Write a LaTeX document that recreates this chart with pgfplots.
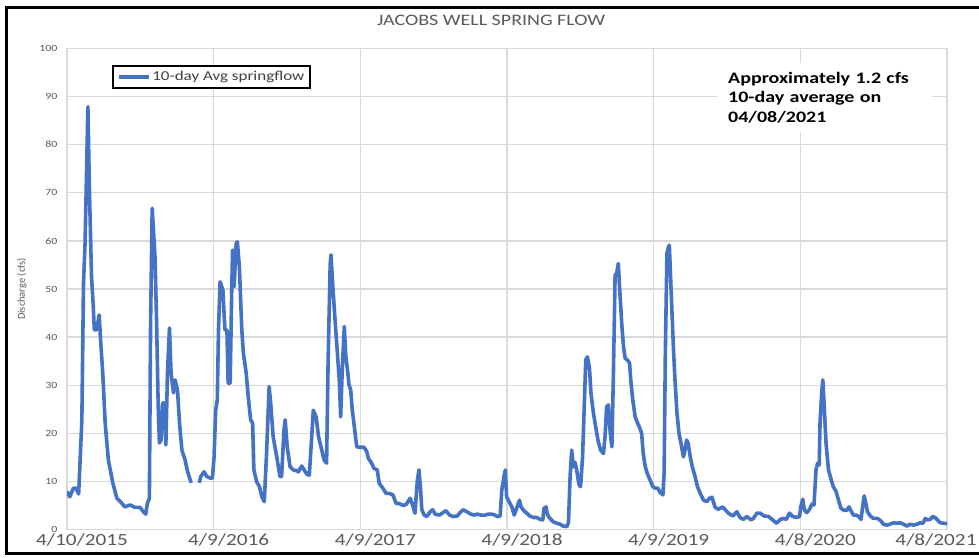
\documentclass[border=0pt]{standalone}
\usepackage{fontspec}
\setmainfont{Carlito}
\newfontfamily\calfont[FakeStretch=1.25]{Carlito}
\usepackage{pgfplots}
\usepackage{pgfplotstable}
\pgfplotsset{compat=1.18}

\definecolor{flowblue}{HTML}{4472C4}
\definecolor{gridgray}{HTML}{D9D9D9}
\definecolor{tickgray}{HTML}{595959}
\definecolor{legendgray}{HTML}{404040}

% days since 4/10/2015, 10-day average springflow (cfs)
\pgfplotstableread{
day cfs
0 7.9
7 6.8
16 8.6
22 8.6
29 7.4
37 22.8
41 51
45 59.6
52 87.9
56 70
61 52.6
65 47
68 41.5
74 41.5
80 44.6
84 38.8
89 32.5
95 22.1
103 14.4
114 9.7
124 6.5
136 5.5
144 4.7
157 5.1
169 4.6
182 4.6
190 3.7
196 3.2
200 5.4
205 6.5
208 42.9
212 66.8
219 56.7
223 42.9
227 25.5
230 18
234 18.6
238 26.3
242 26.3
246 17.6
250 32.5
255 41.9
259 32.5
265 28.4
269 31.1
275 29
280 22.1
286 16.5
294 14.4
299 12.4
304 11
309 9.7
315 nan
329 9.7
333 11
341 12
348 11
356 10.7
362 10.7
366 15.1
370 24.8
374 26.9
377 41.5
381 51.5
388 49.8
393 41.5
398 41.5
401 30.4
406 30.4
410 49.8
412 58.1
416 50.5
421 59.5
424 59.8
429 54.6
435 41.5
439 36.6
446 32.5
451 27.6
457 22.8
462 22.1
465 12.4
472 9.9
479 8.9
485 6.8
491 5.8
497 16.5
503 29.7
507 26.2
513 19.3
522 15.1
530 11
534 11
540 20.7
543 22.8
548 17.2
555 13.1
563 12.4
572 12.2
576 12
584 13.2
590 12.4
597 11.5
603 11.3
609 19.3
613 24.8
620 23.4
626 19.3
634 16.5
640 14.4
646 13.8
650 35.9
655 55.3
657 57.1
661 51.2
667 43.6
673 36.6
678 30.4
681 23.4
685 33.2
690 42.2
694 35.9
698 33.2
702 30
706 29
710 24.8
715 21.4
721 17.2
729 17.1
739 17.1
746 16.2
750 14.8
758 13.8
764 12.7
772 12.4
777 9.6
786 8.6
794 7.5
802 7.5
811 7.2
819 5.4
827 5.4
836 5.0
844 5.2
854 6.5
860 5.1
866 3.4
872 10.3
876 12.4
880 8.2
883 4.1
889 3.0
895 2.7
904 3.7
910 4.1
916 3.2
927 3.0
935 3.5
943 3.9
952 3.0
961 2.7
971 2.8
978 3.5
986 4.1
995 3.7
1005 3.2
1013 3.0
1021 3.2
1030 3.0
1040 3.0
1049 3.2
1057 3.2
1065 3.0
1071 2.7
1078 2.8
1082 8.2
1088 11.3
1091 12.4
1094 6.8
1100 5.8
1107 4.7
1113 3.0
1119 4.4
1126 6.1
1130 4.7
1137 3.9
1144 3.4
1152 2.8
1161 2.5
1169 2.5
1177 2.1
1184 2.0
1187 4.4
1192 4.7
1196 3.0
1202 2.3
1210 1.6
1219 1.3
1227 1.1
1235 0.7
1244 0.6
1248 1.5
1252 11
1256 16.5
1260 13
1264 14
1268 12.6
1274 9.4
1278 8.9
1283 15
1287 25
1291 35.2
1295 35.9
1300 33.8
1304 28.3
1310 24.2
1317 20.7
1322 18.3
1328 16.5
1335 15.8
1339 19.3
1343 25.5
1347 25.9
1352 20
1356 17.2
1360 33.2
1364 52.9
1368 53.3
1372 55.3
1376 49.1
1381 42.2
1385 38
1389 35.6
1395 35.2
1400 34.6
1403 31.1
1408 26.9
1414 23.4
1420 22.1
1424 21.4
1430 20
1434 15.8
1439 13.1
1444 11.7
1451 10.3
1458 8.9
1464 8.6
1470 8.6
1476 7.7
1483 7.2
1486 11.7
1489 36.6
1493 57.4
1497 58.8
1499 59.1
1503 50.5
1509 38
1513 31.1
1518 24.2
1523 20
1528 17.9
1534 15.1
1538 16.5
1542 18.6
1546 17.9
1551 15.1
1556 13.1
1563 11
1569 8.9
1576 7.5
1584 6.1
1592 5.8
1599 6.5
1605 6.7
1613 4.6
1621 4.2
1632 4.7
1638 4.1
1646 3.4
1657 2.8
1667 3.7
1675 2.5
1683 2.1
1692 2.7
1702 2.0
1708 2.3
1717 3.4
1725 3.4
1735 2.8
1746 2.7
1756 2.0
1766 1.3
1775 2.1
1783 2.3
1790 2.1
1798 3.4
1806 2.7
1816 2.5
1823 2.7
1826 4.7
1831 6.3
1835 4.1
1841 3.5
1848 4.2
1854 5.3
1859 5.1
1864 12.4
1868 13.8
1872 13.4
1874 22.1
1878 28.3
1881 31.1
1884 26.2
1889 17.9
1895 12.4
1902 10.3
1907 8.9
1914 7.9
1920 6.1
1926 4.4
1934 4.0
1941 4.0
1946 4.7
1951 3.9
1957 3.0
1964 3.0
1970 2.7
1976 2.1
1980 4.7
1984 7.0
1988 5.4
1992 3.7
1999 2.8
2007 2.3
2017 2.3
2025 1.8
2032 1.1
2040 0.9
2048 1.1
2057 1.4
2065 1.3
2073 1.4
2082 1.1
2090 0.7
2098 1.1
2106 0.9
2115 1.1
2123 1.4
2130 1.3
2136 2.3
2141 2.0
2148 2.1
2155 2.7
2160 2.5
2166 2.0
2173 1.4
2181 1.3
2190 1.2
}\flow

\begin{document}
\begin{tikzpicture}
\useasboundingbox (0pt,0pt) rectangle (979pt,557pt);
\begin{axis}[
  at={(67pt,27.5pt)}, anchor=south west,
  scale only axis, width=880pt, height=481pt,
  xmin=0, xmax=2190, ymin=0, ymax=100,
  xtick={0,365,730,1095,1460,1825},
  xticklabels={4/10/2015,4/9/2016,4/9/2017,4/9/2018,4/9/2019,4/8/2020},
  extra x ticks={2190},
  extra x tick labels={4/8/2021},
  extra x tick style={xticklabel style={xshift=-26pt}},
  ytick={0,10,...,100},
  grid=major,
  major grid style={draw=gridgray, line width=1.3pt},
  axis line style={draw=gridgray, line width=1.3pt},
  tick style={draw=none},
  /pgf/number format/assume math mode=true,
  xticklabel style={font=\calfont\fontsize{17}{17}\selectfont, text=tickgray, xshift=15pt, yshift=-1pt},
  yticklabel style={font=\calfont\fontsize{9.5}{10}\selectfont, text=tickgray, xshift=-6pt},
  ylabel={Discharge (cfs)},
  ylabel style={at={(axis description cs:-0.0511,0.5)}, anchor=center,
    font=\fontsize{10.5}{11}\selectfont, text=tickgray},
  title={JACOBS WELL SPRING FLOW},
  title style={at={(axis description cs:0.482,1)}, anchor=base, yshift=16.5pt,
    font=\calfont\fontsize{16}{16}\selectfont, text=tickgray},
  legend style={at={(0.051,0.966)}, anchor=north west, draw=black, line width=1.8pt,
    fill=white, font=\calfont\fontsize{13.6}{14}\selectfont, text=legendgray,
    inner xsep=4pt, inner ysep=3.5pt},
  legend image code/.code={\draw[#1] (0pt,0pt) -- (30pt,0pt);},
  unbounded coords=jump,
]
\addplot[flowblue, line width=3.6pt, line join=round] table[x=day, y=cfs] {\flow};
\addlegendentry{10-day Avg springflow}
\node[anchor=north west, fill=white, inner xsep=11pt, inner ysep=9pt,
  text width=193pt, align=left, font=\calfont\bfseries\fontsize{16}{19.5}\selectfont]
  at (rel axis cs:0.7386,0.970) {Approximately 1.2 cfs\\10-day average on\\04/08/2021};
\end{axis}
\draw[line width=3pt, black] (979pt,549pt) -- (6pt,549pt) -- (6pt,4pt) -- (979pt,4pt);
\end{tikzpicture}
\end{document}
